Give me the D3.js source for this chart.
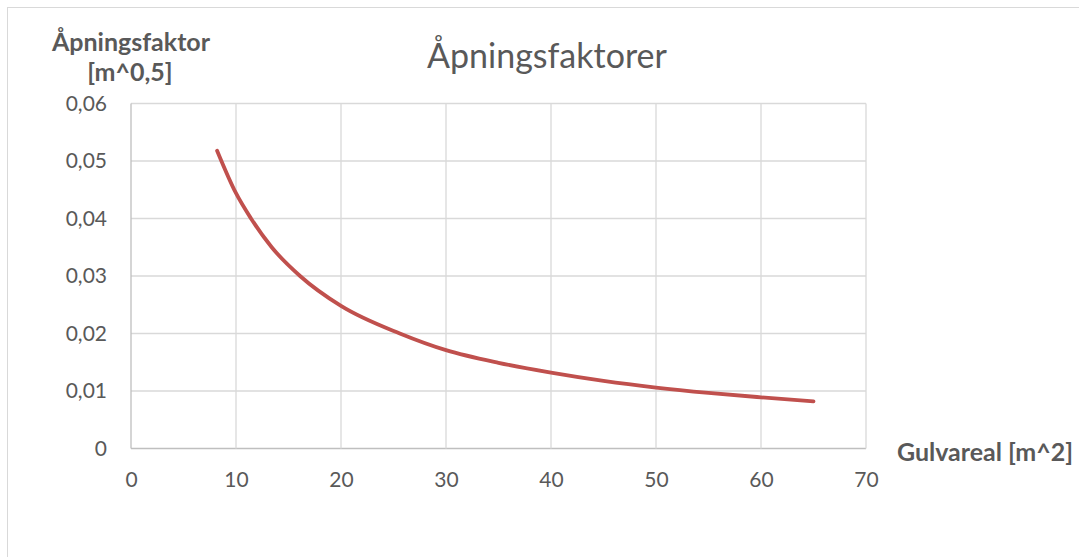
<!DOCTYPE html>
<html><head><meta charset="utf-8">
<script src="https://cdn.jsdelivr.net/npm/d3@7"></script>
<style>body{margin:0;background:#fff}svg{display:block}</style>
</head><body>
<svg id="c" width="1079" height="557"></svg>
<script>
const areas   = [8.2, 10, 11.43, 13.4, 16.1, 20, 25.6, 30, 35, 40, 45, 50, 55, 60, 65];
const factors = [0.0518, 0.0444, 0.0400, 0.0350, 0.0300, 0.0248, 0.0200, 0.0171, 0.0149, 0.0132, 0.01176, 0.0106, 0.00967, 0.0089, 0.0082];
const xTicks = [0, 10, 20, 30, 40, 50, 60, 70];
const yTicks = [0, 0.01, 0.02, 0.03, 0.04, 0.05, 0.06];
const title = "Åpningsfaktorer";
const yTitle = ["Åpningsfaktor", "[m^0,5]"];
const xTitle = "Gulvareal [m^2]";

const svg = d3.select("#c");
const font = "Lato, 'Open Sans', sans-serif";
const txt = "#595959";

// chart frame (top and left edges visible)
svg.append("line").attr("x1", 7).attr("x2", 1079).attr("y1", 7.5).attr("y2", 7.5).attr("stroke", "#d9d9d9");
svg.append("line").attr("x1", 7.5).attr("x2", 7.5).attr("y1", 7).attr("y2", 557).attr("stroke", "#d9d9d9");

const x = d3.scaleLinear().domain([0, 70]).range([131, 866]);
const y = d3.scaleLinear().domain([0, 0.06]).range([448.5, 103.5]);
const fmt = d => d === 0 ? "0" : d3.format(".2f")(d).replace(".", ",");

// gridlines
svg.append("g").selectAll("line").data(yTicks).join("line")
  .attr("x1", x(0)).attr("x2", x(70)).attr("y1", d => y(d)).attr("y2", d => y(d))
  .attr("stroke", d => d === 0 ? "#bfbfbf" : "#d9d9d9").attr("stroke-width", 1.3);
svg.append("g").selectAll("line").data(xTicks).join("line")
  .attr("y1", y(0)).attr("y2", y(0.06)).attr("x1", d => x(d)).attr("x2", d => x(d))
  .attr("stroke", d => d === 0 ? "#bfbfbf" : "#d9d9d9").attr("stroke-width", 1.3);

// axes labels
const ya = d3.axisLeft(y).tickValues(yTicks).tickFormat(fmt).tickSize(0).tickPadding(24);
const gy = svg.append("g").attr("transform", `translate(${x(0)},0)`).call(ya);
gy.select(".domain").remove();
gy.selectAll("text").attr("font-family", font).attr("font-size", 21).attr("fill", txt);

const xa = d3.axisBottom(x).tickValues(xTicks).tickFormat(d3.format("d")).tickSize(0).tickPadding(24);
const gx = svg.append("g").attr("transform", `translate(0,${y(0)})`).call(xa);
gx.select(".domain").remove();
gx.selectAll("text").attr("font-family", font).attr("font-size", 21).attr("fill", txt);

// line
const line = d3.line().x((d, i) => x(areas[i])).y(d => y(d)).curve(d3.curveMonotoneX);
svg.append("path").datum(factors).attr("d", line).attr("fill", "none")
  .attr("stroke", "#c0504d").attr("stroke-width", 3.8).attr("stroke-linecap", "round");

// titles
svg.append("text").attr("x", 547).attr("y", 68).attr("text-anchor", "middle")
  .attr("font-family", font).attr("font-size", 34).attr("fill", txt).text(title);
svg.append("text").attr("x", 131).attr("y", 51).attr("text-anchor", "middle")
  .attr("font-family", font).attr("font-size", 25).attr("font-weight", "bold").attr("fill", txt).text(yTitle[0]);
svg.append("text").attr("x", 130).attr("y", 81).attr("text-anchor", "middle")
  .attr("font-family", font).attr("font-size", 25).attr("font-weight", "bold").attr("fill", txt).text(yTitle[1]);
svg.append("text").attr("x", 985).attr("y", 461).attr("text-anchor", "middle")
  .attr("font-family", font).attr("font-size", 25).attr("font-weight", "bold").attr("fill", txt).text(xTitle);
</script>
</body></html>
